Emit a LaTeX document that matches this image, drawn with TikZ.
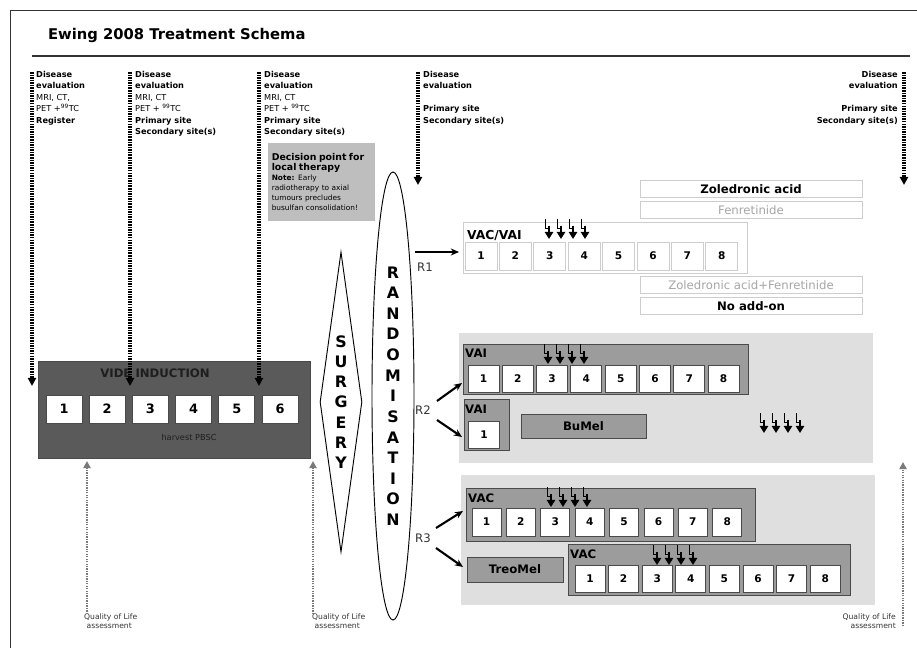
\documentclass[tikz,border=0pt]{standalone}
\usepackage{fontspec}
\setmainfont{DejaVu Sans}
\usetikzlibrary{arrows.meta,positioning,shapes.geometric}
\definecolor{FrameGrey}  {HTML}{333333}
\definecolor{InductionBG}{HTML}{5A5A5A}
\definecolor{InductionTx}{HTML}{1E1E1E}
\definecolor{ArmBG}      {HTML}{DFDFDF}
\definecolor{CycleBG}    {HTML}{9C9C9C}
\definecolor{CycleEdge}  {HTML}{4A4A4A}
\definecolor{FaintEdge}  {HTML}{CDCDCD}
\definecolor{FaintText}  {HTML}{A6A6A6}
\definecolor{QolGrey}    {HTML}{7A7A7A}
\definecolor{DecisionBG} {HTML}{BEBEBE}

% four bent dose arrows, top left corner at (#1,#2)
\newcommand{\DoseTicks}[2]{%
  \foreach \k in {0,1,2,3}{%
    \draw[line width=0.5pt] (#1+\k*12,#2) -- (#1+\k*12,#2+9) -- (#1+\k*12+4,#2+9);
    \draw[line width=1.8pt,-{Triangle[length=6pt,width=7pt]}] (#1+\k*12+4,#2+7) -- (#1+\k*12+4,#2+20);
  }}

\begin{document}
\begin{tikzpicture}[x=0.03cm,y=-0.03cm,
    pxsize/.style 2 args={minimum width=#1*0.03cm,minimum height=#2*0.03cm,inner sep=0pt},
    evaltext/.style={font=\fontsize{7}{9.8}\selectfont,inner sep=0pt},
    evalarrow/.style={line width=2.6pt,dash pattern=on 1.3pt off 0.9pt,-{Triangle[length=7pt,width=7pt]}},
    qolarrow/.style={QolGrey,line width=2pt,dash pattern=on 1.1pt off 1pt,-{Triangle[length=6pt,width=6pt]}},
    qoltext/.style={font=\fontsize{6.5}{8.5}\selectfont,text=FrameGrey,inner sep=0pt},
    randarrow/.style={line width=1.8pt,-{Stealth[length=7pt,width=6pt]}},
    rlabel/.style={font=\fontsize{10}{11}\selectfont,text=FrameGrey},
    cyclebar/.style={fill=CycleBG,draw=CycleEdge,line width=0.8pt},
    faintbar/.style={fill=white,draw=FaintEdge,line width=0.8pt},
    cellbox/.style={fill=white,draw=CycleEdge,line width=0.8pt,font=\fontsize{9}{10}\selectfont\bfseries},
    faintcell/.style={fill=white,draw=FaintEdge,line width=0.8pt,font=\fontsize{9}{10}\selectfont\bfseries},
    barlabel/.style={anchor=west,inner sep=0pt,font=\fontsize{10}{11}\selectfont\bfseries},
    addon/.style={fill=white,draw=FaintEdge,line width=0.8pt,pxsize={222}{17},font=\fontsize{10}{11}\selectfont}
  ]
  \useasboundingbox (0,0) rectangle (917,648);

  % frame and title
  \draw[FrameGrey,line width=0.8pt] (917,10) -- (10,10) -- (10,648);
  \node[anchor=west,font=\fontsize{12.6}{14}\selectfont\bfseries] (title) at (44,35) {Ewing 2008 Treatment Schema};
  \draw[FrameGrey,line width=1.6pt] (32,56) -- (910,56);

  % disease evaluation points
  \node[evaltext,anchor=north west,align=left] (evalA) at (36,71)
    {\textbf{Disease}\\\textbf{evaluation}\\MRI, CT,\\PET +\textsuperscript{99}TC\\\textbf{Register}};
  \node[evaltext,anchor=north west,align=left] (evalB) at (135,71)
    {\textbf{Disease}\\\textbf{evaluation}\\MRI, CT\\PET + \textsuperscript{99}TC\\\textbf{Primary site}\\\textbf{Secondary site(s)}};
  \node[evaltext,anchor=north west,align=left] (evalC) at (264,71)
    {\textbf{Disease}\\\textbf{evaluation}\\MRI, CT\\PET + \textsuperscript{99}TC\\\textbf{Primary site}\\\textbf{Secondary site(s)}};
  \node[evaltext,anchor=north west,align=left] (evalD) at (423,71)
    {\textbf{Disease}\\\textbf{evaluation}\\\mbox{}\\\textbf{Primary site}\\\textbf{Secondary site(s)}};
  \node[evaltext,anchor=north east,align=right] (evalE) at (898,71)
    {\textbf{Disease}\\\textbf{evaluation}\\\mbox{}\\\textbf{Primary site}\\\textbf{Secondary site(s)}};
  \coordinate (evalAtop) at (32,72);   \coordinate (evalAend) at (32,386);
  \coordinate (evalBtop) at (130,72);  \coordinate (evalBend) at (130,386);
  \coordinate (evalCtop) at (259,72);  \coordinate (evalCend) at (259,386);
  \coordinate (evalDtop) at (418,72);  \coordinate (evalDend) at (418,185);
  \coordinate (evalEtop) at (904,72);  \coordinate (evalEend) at (904,185);

  % decision point
  \node[fill=DecisionBG,anchor=north west,text width=3.0cm,minimum height=2.34cm,
        inner sep=3pt,align=left,font=\fontsize{6.3}{8.6}\selectfont] (decision) at (268,143)
    {{\fontsize{8}{9.6}\selectfont\bfseries Decision point for}\\
     {\fontsize{8}{9.6}\selectfont\bfseries local therapy}\\
     \textbf{Note:} Early\\radiotherapy to axial\\tumours precludes\\busulfan consolidation!};

  % induction
  \node[fill=InductionBG,draw=CycleEdge,pxsize={272}{97},anchor=north west] (induction) at (38,361) {};
  \node[text=InductionTx,font=\fontsize{10}{11}\selectfont\bfseries] (inductionlabel) at (155,373) {VIDE INDUCTION};
  \foreach \i in {1,...,6}
    \node[cellbox,pxsize={36}{28},font=\fontsize{11}{12}\selectfont\bfseries] (ind\i) at ({64+(\i-1)*43.2},409) {\i};
  \node[text=InductionTx,font=\fontsize{7}{8}\selectfont] (harvest) at (189,437) {harvest PBSC};

  \foreach \p in {A,B,C,D,E}
    \draw[evalarrow] (eval\p top) -- (eval\p end);

  % surgery and randomisation
  \node[diamond,draw,line width=0.8pt,aspect=0.14,minimum width=42*0.03cm,minimum height=300*0.03cm,
        inner sep=0pt,align=center,font=\fontsize{13.5}{17.2}\selectfont\bfseries] (surgery) at (341,402)
    {S\\U\\R\\G\\E\\R\\Y};
  \node[ellipse,draw,line width=0.8pt,minimum width=42*0.03cm,minimum height=448*0.03cm,
        inner sep=0pt,align=center,font=\fontsize{13.5}{17.6}\selectfont\bfseries] (randomisation) at (393,396)
    {R\\A\\N\\D\\O\\M\\I\\S\\A\\T\\I\\O\\N};

  % R1
  \node[faintbar,pxsize={284}{51},anchor=north west] (vacvai) at (463,222) {};
  \node[barlabel,font=\fontsize{10.5}{12}\selectfont\bfseries] (vacvailabel) at (467,236) {VAC/VAI};
  \foreach \i in {1,...,8}
    \node[faintcell,pxsize={32}{28}] (rone\i) at ({481+(\i-1)*34.4},256) {\i};
  \DoseTicks{545}{219}
  \node[addon,font=\fontsize{10}{11}\selectfont\bfseries] (zoledronic) at (751,189) {Zoledronic acid};
  \node[addon,text=FaintText] (fenretinide) at (751,210) {Fenretinide};
  \node[addon,text=FaintText] (combined) at (751,285) {Zoledronic acid+Fenretinide};
  \node[addon,font=\fontsize{10}{11}\selectfont\bfseries] (noaddon) at (751,306) {No add-on};

  % R2
  \node[fill=ArmBG,pxsize={414}{130},anchor=north west] (armtwo) at (459,333) {};
  \node[cyclebar,pxsize={285}{50},anchor=north west] (vai) at (463,344) {};
  \node[barlabel] (vailabel) at (465,353) {VAI};
  \foreach \i in {1,...,8}
    \node[cellbox,pxsize={31}{27}] (rtwo\i) at ({483.5+(\i-1)*34.3},378.5) {\i};
  \DoseTicks{544}{344}
  \node[cyclebar,pxsize={45}{51},anchor=north west] (vaione) at (464,399) {};
  \node[barlabel] (vaionelabel) at (465,409) {VAI};
  \node[cellbox,pxsize={31}{27}] (vaionecell) at (484,434.5) {1};
  \node[cyclebar,pxsize={125}{24},font=\fontsize{10}{11}\selectfont\bfseries] (bumel) at (583.5,426) {BuMel};
  \DoseTicks{760}{413}

  % R3
  \node[fill=ArmBG,pxsize={414}{130},anchor=north west] (armthree) at (461,475) {};
  \node[cyclebar,pxsize={289}{53},anchor=north west] (vacone) at (466,488) {};
  \node[barlabel] (vaconelabel) at (468,498) {VAC};
  \foreach \i in {1,...,8}
    \node[cellbox,pxsize={29}{28}] (rthree\i) at ({486.5+(\i-1)*34.4},522) {\i};
  \DoseTicks{547}{487}
  \node[cyclebar,pxsize={96}{25},font=\fontsize{10}{11}\selectfont\bfseries] (treomel) at (515,569.5) {TreoMel};
  \node[cyclebar,pxsize={282}{51},anchor=north west] (vactwo) at (568,544) {};
  \node[barlabel] (vactwolabel) at (570,554) {VAC};
  \foreach \i in {1,...,8}
    \node[cellbox,pxsize={30}{27}] (rfour\i) at ({590+(\i-1)*33.6},579) {\i};
  \DoseTicks{653}{545}

  % randomisation arms
  \node[rlabel] (rone) at (425,267) {R1};
  \node[rlabel] (rtwo) at (423,410) {R2};
  \node[rlabel] (rthree) at (423,538) {R3};
  \coordinate (roneS) at (415,252);   \coordinate (roneE) at (459,252);
  \coordinate (rtwoS) at (437,401);   \coordinate (rtwoE) at (462,383);
  \coordinate (rtwoT) at (437,420);   \coordinate (rtwoF) at (462,437);
  \coordinate (rthreeS) at (436,528); \coordinate (rthreeE) at (463,511);
  \coordinate (rthreeT) at (436,548); \coordinate (rthreeF) at (463,567);
  \draw[randarrow] (roneS) -- (roneE);
  \draw[randarrow] (rtwoS) -- (rtwoE);
  \draw[randarrow] (rtwoT) -- (rtwoF);
  \draw[randarrow] (rthreeS) -- (rthreeE);
  \draw[randarrow] (rthreeT) -- (rthreeF);

  % quality of life
  \node[qoltext,anchor=north west,align=left] (qolA) at (84,613) {Quality of Life\\\ assessment};
  \node[qoltext,anchor=north west,align=left] (qolB) at (312,613) {Quality of Life\\\ assessment};
  \node[qoltext,anchor=north east,align=right] (qolC) at (896,613) {Quality of Life\\assessment};
  \coordinate (qolAbot) at (87,614);  \coordinate (qolAtop) at (87,461);
  \coordinate (qolBbot) at (313,614); \coordinate (qolBtop) at (313,461);
  \coordinate (qolCbot) at (903,626); \coordinate (qolCtop) at (903,462);
  \foreach \p in {A,B,C}
    \draw[qolarrow] (qol\p bot) -- (qol\p top);
\end{tikzpicture}
\end{document}
